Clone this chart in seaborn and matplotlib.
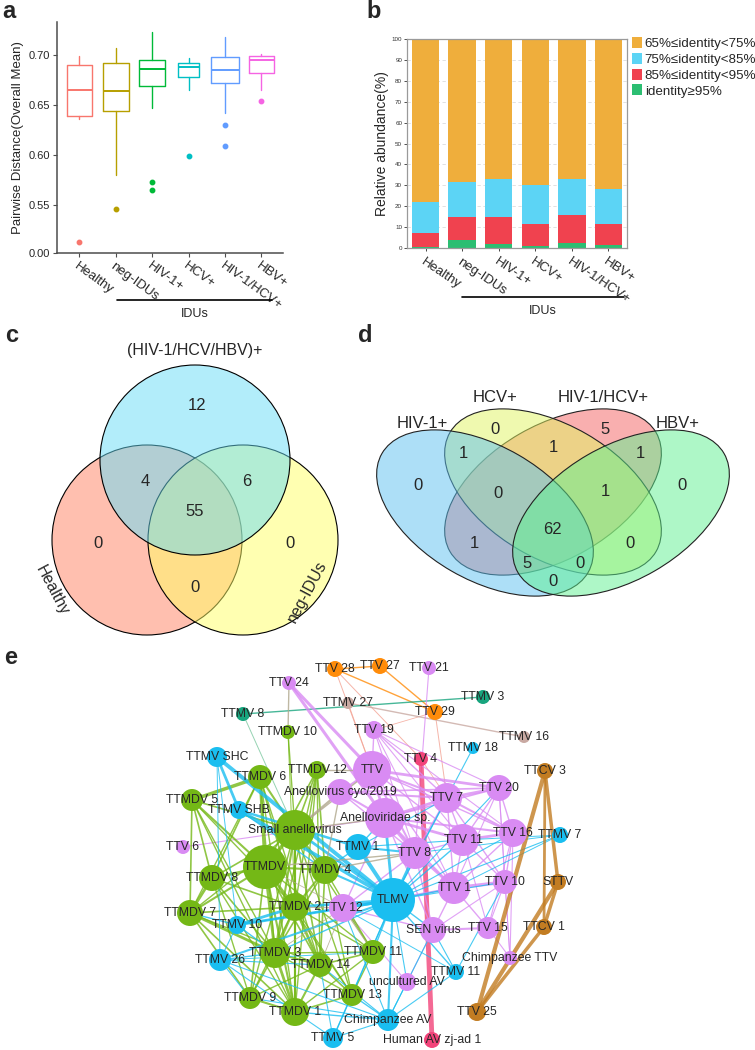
import matplotlib
matplotlib.use("Agg")
import matplotlib.pyplot as plt
from matplotlib.patches import Circle, Ellipse, Patch
from matplotlib.colors import to_rgba
import seaborn as sns
import pandas as pd

W, H = 755, 1050

# ---- panel a: pairwise distance boxplots (stats)
groups = ["Healthy", "neg-IDUs", "HIV-1+", "HCV+", "HIV-1/HCV+", "HBV+"]
whisk_lo = [0.636, 0.580, 0.647, 0.665, 0.642, 0.665]
q1 = [0.639, 0.644, 0.669, 0.678, 0.672, 0.682]
median = [0.665, 0.664, 0.686, 0.688, 0.685, 0.695]
q3 = [0.690, 0.692, 0.695, 0.692, 0.698, 0.699]
whisk_hi = [0.699, 0.707, 0.723, 0.697, 0.718, 0.701]
outliers = [[0.513], [0.546], [0.573, 0.565], [0.599], [0.630, 0.609], [0.654]]
box_widths = [0.68, 0.72, 0.72, 0.59, 0.77, 0.71]
box_colors = ["#F8766D", "#B79F00", "#00BA38", "#00BFC4", "#619CFF", "#F564E3"]

# ---- panel b: identity composition (%)
id_95 = [0.4, 3.7, 1.8, 1.1, 2.2, 1.4]
id_85_95 = [6.8, 11.0, 12.9, 10.4, 13.5, 10.0]
id_75_85 = [14.8, 17.0, 18.3, 18.6, 17.1, 16.6]
id_65_75 = [78.0, 68.3, 67.0, 69.9, 67.2, 72.0]
id_labels = ["65%≤identity<75%", "75%≤identity<85%", "85%≤identity<95%", "identity≥95%"]
id_colors = ["#EFAE3C", "#5CD4F5", "#F0424F", "#2CBE72"]

# ---- panel c: 3-set venn counts
venn3_sets = ["(HIV-1/HCV/HBV)+", "Healthy", "neg-IDUs"]
venn3_counts = {"top": 12, "left": 0, "right": 0, "top_left": 4, "top_right": 6,
                "left_right": 0, "all": 55}

# ---- panel d: 4-set venn counts
venn4_sets = ["HIV-1+", "HCV+", "HIV-1/HCV+", "HBV+"]
venn4_counts = {"A": 0, "B": 0, "C": 5, "D": 0, "AB": 1, "BC": 1, "CD": 1, "ABC": 0,
                "BCD": 1, "ABCD": 62, "AC": 1, "BD": 0, "ACD": 5, "ABD": 0, "AD": 0}

# ---- panel e: network
node_labels = ["TTV 28", "TTV 27", "TTV 21", "TTV 24", "TTMV 27", "TTMV 8", "TTV 29", "TTMV 3",
               "TTMDV 10", "TTV 19", "TTMV 18", "TTMV 16", "TTV 4", "TTMV SHC", "TTMDV 6",
               "TTMDV 12", "TTV", "TTMDV 5", "TTMV SHB", "Anellovirus cyc/2019", "TTV 7",
               "TTV 20", "TTCV 3", "Small anellovirus", "Anelloviridae sp.", "TTMV 1", "TTV 8",
               "TTV 11", "TTV 16", "TTMV 7", "TTV 6", "TTMDV", "TTMDV 4", "TTMDV 8", "TLMV",
               "TTV 1", "TTV 10", "STTV", "TTMDV 2", "TTV 12", "TTMDV 7", "TTMV 10", "SEN virus",
               "TTV 15", "TTCV 1", "TTMDV 11", "TTMV 26", "TTMDV 3", "TTMDV 14", "Chimpanzee TTV",
               "TTMV 11", "uncultured AV", "TTMDV 9", "TTMDV 13", "TTMDV 1", "TTV 25",
               "Chimpanzee AV", "TTMV 5", "Human AV zj-ad 1"]
node_x = [335, 380, 429, 289, 348, 243, 435, 483,
          288, 374, 473, 524, 421, 217, 260,
          317, 372, 192, 239, 340, 447,
          499, 545, 295, 385, 358, 415,
          463, 513, 560, 183, 265, 325, 212, 393,
          454, 505, 558, 295, 343, 190, 237, 433,
          488, 544, 373, 220, 275, 320, 510,
          456, 407, 250, 352, 295, 477,
          388, 333, 432]
node_y = [669, 666, 668, 683, 703, 714, 712, 697,
          732, 730, 748, 737, 759, 757, 777,
          770, 770, 800, 810, 792, 798,
          788, 771, 830, 818, 847, 853,
          840, 833, 835, 847, 867, 870, 878, 900,
          888, 882, 882, 907, 908, 913, 925, 930,
          928, 927, 952, 960, 953, 965, 958,
          972, 982, 998, 995, 1012, 1012,
          1020, 1038, 1040]
node_r = [8, 8, 7, 7, 6, 7, 8, 7,
          7, 9, 6, 6, 7, 10, 12,
          9, 19, 11, 9, 13, 15,
          13, 8, 20, 20, 13, 16,
          16, 14, 8, 7, 22, 14, 13, 22,
          16, 12, 8, 14, 14, 13, 9, 13,
          11, 8, 12, 11, 15, 12, 7,
          8, 9, 11, 11, 14, 9,
          11, 10, 8]
node_type = ["orange", "orange", "TTV", "TTV", "taupe", "teal", "orange", "teal",
             "TTMDV", "TTV", "TTMV", "taupe", "red", "TTMV", "TTMDV",
             "TTMDV", "TTV", "TTMDV", "TTMV", "TTV", "TTV",
             "TTV", "brown", "TTMDV", "TTV", "TTMV", "TTV",
             "TTV", "TTV", "TTMV", "TTV", "TTMDV", "TTMDV", "TTMDV", "TTMV",
             "TTV", "TTV", "brown", "TTMDV", "TTV", "TTMDV", "TTMV", "TTV",
             "TTV", "brown", "TTMDV", "TTMV", "TTMDV", "TTMDV", "TTV",
             "TTMV", "TTV", "TTMDV", "TTMDV", "TTMDV", "brown",
             "TTMV", "TTMV", "red"]
type_colors = {"TTV": "#D98BF3", "TTMDV": "#74B816", "TTMV": "#1ABEF0", "orange": "#FF8C0A",
               "teal": "#18A57E", "taupe": "#C9A9A2", "red": "#F2447A", "brown": "#C27C22"}

edges = [
    ("TTV 28", "TTV 27", 1.0), ("TTV 28", "TTV 29", 1.0), ("TTV 27", "TTV 29", 1.0),
    ("TTV 28", "TTV", 0.7), ("TTV 28", "TTV 4", 0.7), ("TTV 29", "TTV 7", 0.7),
    ("TTV 29", "TTV 19", 0.6), ("TTMV 27", "TTV", 0.7), ("TTMV 27", "TTMV 16", 1.0),
    ("TTMV 8", "TTMV 3", 1.0), ("TTMV 8", "Small anellovirus", 0.7), ("TTV 21", "TTV 8", 0.8),
    ("TTV 24", "TTV", 2.2), ("TTV 24", "Anelloviridae sp.", 2.2), ("TTV 24", "TTMDV 10", 1.0),
    ("TTMDV 10", "Small anellovirus", 1.0), ("TTMDV 10", "TTMDV 2", 0.7),
    ("TTMV 18", "TLMV", 0.8), ("TTV 4", "Human AV zj-ad 1", 3.5), ("TTV 4", "TTV 7", 0.6),
    # TTV cluster
    ("TTV 19", "TTV", 1.0), ("TTV 19", "TTV 7", 1.0), ("TTV 19", "TTV 11", 0.8),
    ("TTV 19", "TTV 16", 0.8), ("TTV 19", "TTV 20", 0.8), ("TTV 19", "TTV 1", 0.8),
    ("TTV 19", "TTV 8", 0.8), ("TTV", "Anelloviridae sp.", 2.0), ("TTV", "TTV 7", 1.5),
    ("TTV", "TTV 20", 2.0), ("TTV", "TTV 8", 1.5), ("TTV", "TTV 11", 1.0), ("TTV", "TTV 1", 1.0),
    ("TTV", "TTV 16", 1.0), ("TTV", "Anellovirus cyc/2019", 1.5),
    ("Anellovirus cyc/2019", "TTV 7", 1.5), ("Anellovirus cyc/2019", "TTV 20", 1.2),
    ("Anellovirus cyc/2019", "TTV 8", 1.0), ("Anellovirus cyc/2019", "Anelloviridae sp.", 1.5),
    ("Anelloviridae sp.", "TTV 7", 2.0), ("Anelloviridae sp.", "TTV 11", 2.0),
    ("Anelloviridae sp.", "TTV 16", 1.5), ("Anelloviridae sp.", "TTV 8", 2.0),
    ("Anelloviridae sp.", "TTV 1", 1.5), ("Anelloviridae sp.", "TTV 12", 1.0),
    ("Anelloviridae sp.", "SEN virus", 1.0), ("Anelloviridae sp.", "TTV 20", 1.2),
    ("TTV 7", "TTV 20", 2.0), ("TTV 7", "TTV 16", 1.5), ("TTV 7", "TTV 11", 1.0),
    ("TTV 7", "TTV 1", 1.0), ("TTV 7", "TTV 10", 1.0), ("TTV 7", "TTV 8", 1.0),
    ("TTV 11", "TTV 16", 2.0), ("TTV 11", "TTV 20", 1.0), ("TTV 11", "TTV 1", 1.0),
    ("TTV 11", "TTV 10", 1.0), ("TTV 11", "TTV 15", 0.8), ("TTV 11", "TTV 8", 1.0),
    ("TTV 16", "TTV 20", 1.0), ("TTV 16", "TTV 10", 1.0), ("TTV 16", "TTV 1", 1.0),
    ("TTV 16", "TTV 15", 0.8), ("TTV 16", "Chimpanzee TTV", 0.8), ("TTV 20", "TTV 10", 0.8),
    ("TTV 20", "TTV 1", 0.8), ("TTV 20", "Chimpanzee TTV", 0.7), ("TTV 1", "TTV 10", 2.5),
    ("TTV 1", "TTV 8", 1.5), ("TTV 1", "SEN virus", 1.0), ("TTV 1", "TTV 15", 1.0),
    ("TTV 1", "TTV 12", 1.5), ("TTV 10", "TTV 15", 0.8), ("TTV 10", "SEN virus", 0.8),
    ("TTV 10", "Chimpanzee TTV", 0.7), ("TTV 8", "TTV 12", 1.0), ("TTV 8", "SEN virus", 1.0),
    ("TTV 12", "SEN virus", 1.0), ("TTV 12", "uncultured AV", 0.8),
    ("SEN virus", "TTV 15", 1.5), ("SEN virus", "uncultured AV", 0.8),
    ("TTV 15", "Chimpanzee TTV", 0.8), ("TTV 6", "Anelloviridae sp.", 0.8),
    # TTMDV cluster
    ("Small anellovirus", "TTMDV", 2.5), ("Small anellovirus", "TTMDV 4", 1.5),
    ("Small anellovirus", "TTMDV 2", 1.5), ("Small anellovirus", "TTMDV 3", 1.5),
    ("Small anellovirus", "TTMDV 8", 1.2), ("Small anellovirus", "TTMDV 5", 1.2),
    ("Small anellovirus", "TTMDV 6", 1.5), ("Small anellovirus", "TTMDV 12", 1.2),
    ("Small anellovirus", "TTMDV 7", 1.0), ("Small anellovirus", "TTMDV 14", 1.2),
    ("Small anellovirus", "TTMDV 1", 1.5), ("Small anellovirus", "TTMDV 9", 1.0),
    ("Small anellovirus", "TTMDV 11", 1.0), ("Small anellovirus", "TTMDV 13", 1.0),
    ("TTMDV", "TTMDV 8", 2.0), ("TTMDV", "TTMDV 7", 1.5), ("TTMDV", "TTMDV 5", 1.5),
    ("TTMDV", "TTMDV 6", 2.0), ("TTMDV", "TTMDV 2", 1.5), ("TTMDV", "TTMDV 3", 2.0),
    ("TTMDV", "TTMDV 4", 1.5), ("TTMDV", "TTMDV 14", 1.2), ("TTMDV", "TTMDV 1", 1.5),
    ("TTMDV", "TTMDV 9", 1.2), ("TTMDV", "TTMDV 12", 1.2), ("TTMDV", "TTMDV 13", 1.0),
    ("TTMDV", "TTMDV 11", 1.0), ("TTMDV 6", "TTMDV 5", 2.5), ("TTMDV 6", "TTMDV 8", 1.2),
    ("TTMDV 6", "TTMDV 2", 1.2), ("TTMDV 6", "TTMDV 3", 1.0), ("TTMDV 6", "TTMDV 7", 1.0),
    ("TTMDV 6", "TTMDV 14", 1.0), ("TTMDV 6", "TTMDV 1", 1.0), ("TTMDV 5", "TTMDV 8", 1.2),
    ("TTMDV 5", "TTMDV 7", 1.2), ("TTMDV 5", "TTMDV 3", 1.0), ("TTMDV 5", "TTMDV 2", 1.0),
    ("TTMDV 5", "TTMDV 1", 1.0), ("TTMDV 12", "TTMDV 4", 1.2), ("TTMDV 12", "TTMDV 2", 1.0),
    ("TTMDV 12", "TTMDV 3", 1.0), ("TTMDV 12", "TTMDV 14", 1.0), ("TTMDV 12", "TTMDV 1", 1.0),
    ("TTMDV 8", "TTMDV 7", 2.0), ("TTMDV 8", "TTMDV 3", 1.2), ("TTMDV 8", "TTMDV 2", 1.2),
    ("TTMDV 8", "TTMDV 9", 1.0), ("TTMDV 8", "TTMDV 1", 1.0), ("TTMDV 7", "TTMDV 3", 2.0),
    ("TTMDV 7", "TTMDV 9", 1.2), ("TTMDV 7", "TTMDV 1", 1.2), ("TTMDV 7", "TTMDV 14", 1.0),
    ("TTMDV 7", "TTMDV 2", 1.2), ("TTMDV 4", "TTMDV 2", 1.5), ("TTMDV 4", "TTMDV 3", 1.2),
    ("TTMDV 4", "TTMDV 14", 1.2), ("TTMDV 4", "TTMDV 11", 1.0), ("TTMDV 4", "TTMDV 13", 1.0),
    ("TTMDV 2", "TTMDV 3", 1.5), ("TTMDV 2", "TTMDV 14", 2.0), ("TTMDV 2", "TTMDV 1", 1.5),
    ("TTMDV 2", "TTMDV 13", 1.0), ("TTMDV 2", "TTMDV 9", 1.0), ("TTMDV 2", "TTMDV 11", 1.0),
    ("TTMDV 3", "TTMDV 14", 1.5), ("TTMDV 3", "TTMDV 1", 2.0), ("TTMDV 3", "TTMDV 9", 1.2),
    ("TTMDV 3", "TTMDV 13", 1.0), ("TTMDV 3", "TTMDV 11", 1.0), ("TTMDV 14", "TTMDV 1", 1.5),
    ("TTMDV 14", "TTMDV 13", 1.2), ("TTMDV 14", "TTMDV 11", 1.2), ("TTMDV 14", "TTMDV 9", 1.0),
    ("TTMDV 1", "TTMDV 9", 1.5), ("TTMDV 1", "TTMDV 13", 1.2), ("TTMDV 11", "TTMDV 13", 1.0),
    ("TTMDV 11", "TTMDV 1", 1.0),
    # TTMV links
    ("TTMV SHC", "TLMV", 2.8), ("TTMV SHC", "TTMV SHB", 2.0), ("TTMV SHC", "TTMV 10", 0.7),
    ("TTMV SHC", "TTMV 26", 0.7), ("TTMV SHB", "TLMV", 2.5), ("TTMV SHB", "TTMV 1", 1.8),
    ("TTMV SHB", "TTMDV 4", 1.0), ("TLMV", "TTMV 1", 2.8), ("TLMV", "TTMV 10", 2.0),
    ("TLMV", "TTMV 26", 1.5), ("TLMV", "TTMV 5", 1.0), ("TLMV", "Chimpanzee AV", 1.5),
    ("TLMV", "TTMV 11", 1.0), ("TLMV", "TTMV 7", 0.8), ("TLMV", "TTV 8", 1.5),
    ("TLMV", "TTV 1", 1.0), ("TLMV", "TTV 12", 2.0), ("TLMV", "TTMDV 11", 1.0),
    ("TLMV", "TTMDV 2", 2.0), ("TLMV", "TTMDV 4", 1.5), ("TLMV", "TTMDV 3", 1.0),
    ("TLMV", "Small anellovirus", 2.0), ("TLMV", "TTMDV 13", 0.8), ("TLMV", "uncultured AV", 0.8),
    ("TLMV", "SEN virus", 1.0), ("TLMV", "Anelloviridae sp.", 2.0), ("TLMV", "TTV 7", 1.0),
    ("TLMV", "TTV 11", 1.0), ("TLMV", "TTV 20", 0.8), ("TLMV", "TTV 16", 0.8),
    ("TLMV", "TTV 10", 0.8), ("TTMV 1", "TTV 8", 1.5), ("TTMV 1", "Anelloviridae sp.", 1.0),
    ("TTMV 1", "TTMDV 4", 1.0), ("TTMV 1", "TTV 7", 0.8), ("TTMV 1", "TTV 11", 0.8),
    ("TTMV 10", "TTMDV 2", 2.0), ("TTMV 10", "TTMDV 3", 1.0), ("TTMV 10", "TTMDV 7", 1.0),
    ("TTMV 10", "TTMV 26", 0.8), ("TTMV 10", "TTV 12", 1.0), ("TTMV 26", "TTMDV 3", 1.0),
    ("TTMV 26", "TTMDV 9", 0.8), ("TTMV 26", "TTMDV 1", 0.8), ("TTMV 26", "Chimpanzee AV", 0.8),
    ("TTMV 26", "TTMDV 14", 0.8), ("TTMV 26", "TTMDV 11", 0.7), ("Chimpanzee AV", "TTMDV 1", 1.0),
    ("Chimpanzee AV", "TTMDV 13", 1.0), ("Chimpanzee AV", "TTMDV 14", 0.8),
    ("Chimpanzee AV", "TTMV 5", 0.8), ("Chimpanzee AV", "SEN virus", 0.8),
    ("Chimpanzee AV", "TTMV 11", 0.8), ("Chimpanzee AV", "uncultured AV", 0.8),
    ("Chimpanzee AV", "TTV 12", 0.8), ("Chimpanzee AV", "TTMDV 9", 0.8),
    ("TTMV 5", "TTMDV 1", 0.8), ("TTMV 5", "TTMDV 13", 0.8), ("TTMV 5", "TTMDV 14", 0.8),
    ("TTMV 11", "TTV 10", 0.8), ("TTMV 11", "SEN virus", 0.8), ("TTMV 11", "TTV 12", 0.7),
    ("TTMV 7", "TTV 1", 0.7), ("TTMV 7", "TTV 11", 0.7), ("TTMV 7", "TTV 8", 0.7),
    # TTMDV - TTV links
    ("Small anellovirus", "Anellovirus cyc/2019", 1.5), ("Small anellovirus", "TTV", 1.0),
    ("TTMDV", "TTV 8", 1.0), ("TTMDV 4", "TTV 8", 1.0), ("TTMDV 12", "TTV", 1.0),
    ("TTMDV 4", "Anellovirus cyc/2019", 1.0), ("TTMDV 2", "TTV 12", 0.8),
    ("TTMDV 11", "TTV 12", 0.8), ("TTMDV 14", "TTV 12", 0.6), ("TTMDV 3", "TTV 12", 0.6),
    ("Small anellovirus", "Anelloviridae sp.", 1.0), ("TTMDV", "TTV 12", 0.6),
    # TTCV group
    ("TTCV 3", "TTV 25", 3.0), ("TTCV 3", "STTV", 2.5), ("TTCV 3", "TTCV 1", 2.0),
    ("STTV", "TTV 25", 3.0), ("STTV", "TTCV 1", 2.5), ("TTCV 1", "TTV 25", 2.5),
]

sns.set_style("white")
plt.rcParams['font.family'] = ['Liberation Sans', 'DejaVu Sans']

fig = plt.figure(figsize=(7.55, 10.5), dpi=100)


def frac(x0, y0, x1, y1):
    return [x0 / W, 1 - y1 / H, (x1 - x0) / W, (y1 - y0) / H]


# ================= a
ax_a = fig.add_axes(frac(57, 22, 283, 253))
for i, g in enumerate(groups):
    c = box_colors[i]
    stat = dict(whislo=whisk_lo[i], q1=q1[i], med=median[i], q3=q3[i], whishi=whisk_hi[i],
                fliers=outliers[i])
    ax_a.bxp([stat], positions=[i], widths=box_widths[i], showcaps=False, manage_ticks=False,
             boxprops=dict(color=c, lw=1.0), whiskerprops=dict(color=c, lw=1.0),
             medianprops=dict(color=c, lw=1.4),
             flierprops=dict(marker='o', markerfacecolor=c, markeredgecolor=c, markersize=3.2))
ax_a.set_xlim(-0.61, 5.59)
ax_a.set_ylim(0.5023, 0.733)
ax_a.set_yticks([0.5023, 0.55, 0.60, 0.65, 0.70])
ax_a.set_yticklabels(["0.00", "0.55", "0.60", "0.65", "0.70"], fontsize=8)
ax_a.set_xticks(range(len(groups)))
ax_a.set_xticklabels(groups, rotation=-36, ha='left', va='top', rotation_mode='anchor', fontsize=9.5)
ax_a.set_ylabel("Pairwise Distance(Overall Mean)", fontsize=9.5, labelpad=3)
sns.despine(ax=ax_a)
for s in ["left", "bottom"]:
    ax_a.spines[s].set_color("#4d4d4d")
    ax_a.spines[s].set_linewidth(1.1)
ax_a.tick_params(axis='both', length=3, width=0.8, color="#4d4d4d", pad=2, left=True, bottom=True)

# ================= b
ax_b = fig.add_axes(frac(407, 39, 627, 248))
df_b = pd.DataFrame({"group": groups, id_labels[3]: id_95, id_labels[2]: id_85_95,
                     id_labels[1]: id_75_85, id_labels[0]: id_65_75})
cum = df_b[id_labels[::-1]].cumsum(axis=1)
for lab, col in zip(id_labels, id_colors):
    sns.barplot(x=df_b["group"], y=cum[lab], color=col, width=0.75, saturation=1,
                edgecolor="none", ax=ax_b, zorder=2)
ax_b.set_xlim(-0.51, 5.51)
ax_b.set_ylim(0, 100)
ax_b.set_yticks(range(0, 101, 10))
ax_b.tick_params(axis='y', labelsize=4.5, length=2, width=0.6, pad=1.5, left=True, colors="#333333")
ax_b.tick_params(axis='x', length=2, width=0.6, bottom=True)
ax_b.set_xticks(range(len(groups)))
ax_b.set_xticklabels(groups, rotation=-34, ha='left', va='top', rotation_mode='anchor', fontsize=9.5)
ax_b.set_xlabel("")
ax_b.set_ylabel("Relative abundance(%)", fontsize=10, labelpad=2)
ax_b.yaxis.grid(True, ls=(0, (4, 3)), color="#dcdcdc", lw=0.6, zorder=0)
ax_b.set_axisbelow(True)
for s in ax_b.spines.values():
    s.set_color("#9a9a9a")
    s.set_linewidth(0.9)
fig.legend([Patch(facecolor=c, edgecolor="none") for c in id_colors], id_labels,
           loc="upper left", bbox_to_anchor=(632 / W, 1 - 37 / H), frameon=False, fontsize=9.6,
           handlelength=0.75, handleheight=0.9, handletextpad=0.2, labelspacing=0.2,
           borderpad=0, borderaxespad=0)

# ================= c, d, e and annotations on a pixel canvas
cv = fig.add_axes([0, 0, 1, 1])
cv.set_xlim(0, W)
cv.set_ylim(H, 0)
cv.axis("off")
cv.patch.set_alpha(0)

for txt, x, y in [("a", 9, 12), ("b", 374, 12), ("c", 12, 336), ("d", 365, 336), ("e", 11, 658)]:
    cv.text(x, y, txt, fontsize=17, fontweight="bold", ha="center", va="center")

for x0, x1, y, tx, ty in [(117, 272, 300, 195, 314), (462, 624, 297, 543, 311)]:
    cv.plot([x0, x1], [y, y], color="black", lw=1.2)
    cv.text(tx, ty, "IDUs", fontsize=9, ha="center", va="center")

# venn c (drawn pink, yellow, then blue on top)
for (cx, cy), col in zip([(147, 540), (243, 540), (195, 460)], ["#FF8161", "#FFFF65", "#67DDF7"]):
    cv.add_patch(Circle((cx, cy), 95, facecolor=to_rgba(col, 0.5), edgecolor="black", lw=0.8))
c_pos = {"top": (197, 405), "top_left": (145, 482), "top_right": (247, 482), "all": (195, 511),
         "left": (98, 543), "right": (290, 543), "left_right": (195, 588)}
for k, (x, y) in c_pos.items():
    cv.text(x, y, str(venn3_counts[k]), fontsize=12, ha="center", va="center")
cv.text(195, 351, venn3_sets[0], fontsize=11.5, ha="center", va="center")
cv.text(52, 590, venn3_sets[1], fontsize=11.5, ha="center", va="center", rotation=-62)
cv.text(307, 592, venn3_sets[2], fontsize=11.5, ha="center", va="center", rotation=62)

# venn d (drawn red, yellow, blue, green)
for (cx, cy), ang, col in zip([(553, 492), (553, 492), (485, 513), (621, 513)], [-30, 30, 30, -30],
                              ["#F56161", "#E1F561", "#5DC1F1", "#5FF191"]):
    cv.add_patch(Ellipse((cx, cy), 238, 134, angle=ang, facecolor=to_rgba(col, 0.5),
                         edgecolor="#222222", lw=0.8))
d_pos = {"A": (418, 486), "B": (495, 429), "C": (605, 429), "D": (682, 486), "AB": (463, 453),
         "BC": (553, 447), "CD": (640, 453), "ABC": (498, 493), "BCD": (605, 492),
         "ABCD": (552, 529), "AC": (474, 544), "BD": (630, 544), "ACD": (527, 563),
         "ABD": (580, 563), "AD": (553, 581)}
for k, (x, y) in d_pos.items():
    cv.text(x, y, str(venn4_counts[k]), fontsize=12, ha="center", va="center")
for lab, (x, y) in zip(venn4_sets, [(422, 423), (495, 398), (603, 398), (678, 423)]):
    cv.text(x, y, lab, fontsize=12, ha="center", va="center")

# network e
nodes = pd.DataFrame({"label": node_labels, "x": node_x, "y": node_y, "r": node_r, "type": node_type})
pos = nodes.set_index("label")


def edge_color(a, b):
    ta, tb = pos.loc[a, "type"], pos.loc[b, "type"]
    if ta == tb:
        return type_colors[ta]
    if "TTMV" in (ta, tb):
        return type_colors["TTMV"]
    if {ta, tb} == {"TTMDV", "TTV"}:
        return "#AFA78C"
    if "teal" in (ta, tb):
        return "#7CC8A0"
    if ta in ("orange", "taupe", "red"):
        return "#F3A293"
    return type_colors[ta]


for a, b, w in edges:
    cv.plot([pos.loc[a, "x"], pos.loc[b, "x"]], [pos.loc[a, "y"], pos.loc[b, "y"]],
            color=edge_color(a, b), lw=w, alpha=0.8, solid_capstyle="round", zorder=1)

cv.scatter(nodes["x"], nodes["y"], s=(nodes["r"] * 1.44) ** 2,
           c=[type_colors[t] for t in nodes["type"]], edgecolors="none", zorder=2)
for _, row in nodes.iterrows():
    cv.text(row["x"], row["y"], row["label"], fontsize=8.8, ha="center", va="center", zorder=3)

fig.savefig("out.png", dpi=100)
